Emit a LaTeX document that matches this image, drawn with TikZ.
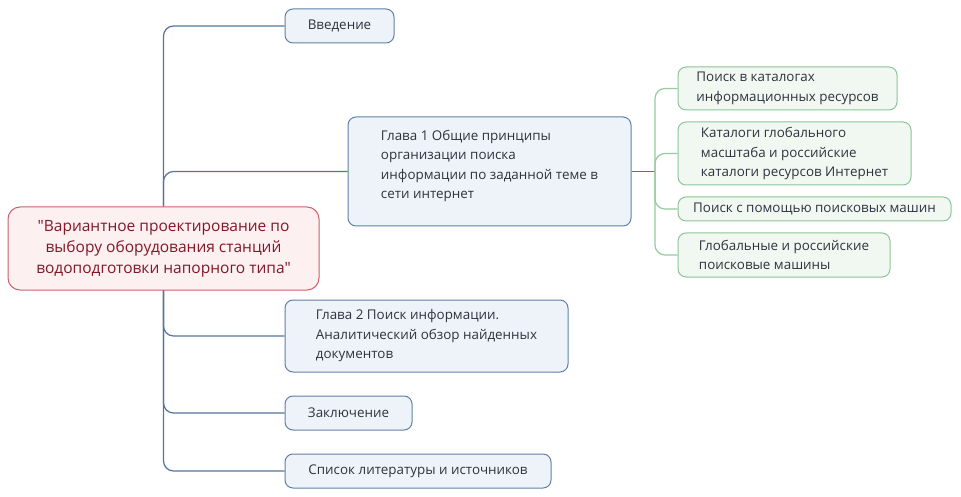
\documentclass[tikz,border=0pt]{standalone}
\usepackage{fontspec}
\setmainfont{Open Sans}[Ligatures=TeXOff]
\usetikzlibrary{positioning}
\definecolor{bluebd}{RGB}{96,128,166}
\definecolor{bluefill}{RGB}{238,243,250}
\definecolor{blueline}{RGB}{84,116,156}
\definecolor{rootbd}{RGB}{204,96,108}
\definecolor{rootfill}{RGB}{252,240,241}
\definecolor{roottext}{RGB}{130,24,40}
\definecolor{greenbd}{RGB}{140,196,152}
\definecolor{greenfill}{RGB}{240,248,241}
\definecolor{greenline}{RGB}{150,202,160}
\definecolor{txt}{RGB}{45,52,62}
\tikzset{
  base/.style={rounded corners=8pt, line width=1pt, inner sep=0pt, align=left, text=txt,
    font=\fontsize{13.4}{19.5}\selectfont},
  bluebox/.style={base, draw=bluebd, fill=bluefill},
  greenbox/.style={base, draw=greenbd, fill=greenfill},
  rootbox/.style={base, rounded corners=12pt, draw=rootbd, fill=rootfill, text=roottext, align=center,
    font=\fontsize{15.5}{21}\selectfont},
  conn/.style={draw=blueline, line width=1.2pt, rounded corners=10pt},
  gconn/.style={draw=greenline, line width=1.2pt, rounded corners=10pt},
}
\begin{document}
\begin{tikzpicture}[x=1pt,y=-1pt]
\useasboundingbox (0,0) rectangle (961,497);
\node[rootbox, minimum width=311pt, minimum height=83pt] (root) at (163.5,248.5)
  {"Вариантное проектирование по\\выбору оборудования станций\\водоподготовки напорного типа"};
\node[bluebox, minimum width=109pt, minimum height=34pt] (intro) at (339.5,26) {Введение};
\node[bluebox, minimum width=283pt, minimum height=109pt] (ch1) at (489.5,171.5)
  {Глава 1 Общие принципы\\организации поиска\\информации по заданной теме в\\сети интернет\\[-5pt]\mbox{}};
\node[bluebox, minimum width=283pt, minimum height=72pt] (ch2) at (426.5,336)
  {Глава 2 Поиск информации.\\Аналитический обзор найденных\\документов};
\node[bluebox, minimum width=127pt, minimum height=34pt] (concl) at (348.5,413) {Заключение};
\node[bluebox, minimum width=266pt, minimum height=34pt] (lit) at (418,471) {Список литературы и источников};
\node[greenbox, minimum width=219pt, minimum height=43pt] (g1) at (787.5,88.5)
  {Поиск в каталогах\\информационных ресурсов};
\node[greenbox, minimum width=233pt, minimum height=63pt] (g2) at (794.5,153.5)
  {Каталоги глобального\\масштаба и российские\\каталоги ресурсов Интернет};
\node[greenbox, minimum width=273pt, minimum height=24pt] (g3) at (814.5,209)
  {Поиск с помощью поисковых машин};
\node[greenbox, minimum width=212pt, minimum height=44pt] (g4) at (784,255)
  {Глобальные и российские\\поисковые машины};
\coordinate (gj) at (655,171.5);
\draw[conn] (root.north) |- (intro.west);
\draw[conn] (root.north) |- (ch1.west);
\draw[conn] (root.south) |- (ch2.west);
\draw[conn] (root.south) |- (concl.west);
\draw[conn] (root.south) |- (lit.west);
\draw[conn] (ch1.east) -- (gj);
\draw[gconn] (gj) |- (g1.west);
\draw[gconn] (gj) |- (g2.west);
\draw[gconn] (gj) |- (g3.west);
\draw[gconn] (gj) |- (g4.west);
\end{tikzpicture}
\end{document}
